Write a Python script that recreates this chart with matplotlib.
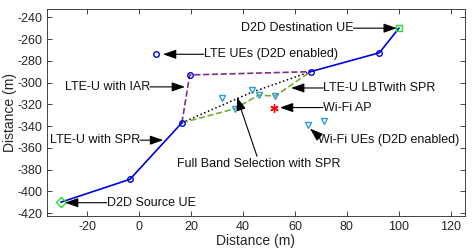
import matplotlib
matplotlib.use('Agg')
import matplotlib.pyplot as plt

plt.rcParams['font.family'] = ['Liberation Sans', 'DejaVu Sans']
plt.rcParams['axes.unicode_minus'] = False

# path nodes
lte_spr_x1 = [-30, -3.5, 16.5]
lte_spr_y1 = [-410, -389, -337]
lte_spr_x2 = [66, 92.5, 100]
lte_spr_y2 = [-290, -272.6, -250]
iar_x = [16.5, 19.5, 66]
iar_y = [-337, -293, -290]
full_x = [16.5, 43.3, 66]
full_y = [-337, -309, -290]
lbt_x = [16.5, 37, 46, 52.3, 66]
lbt_y = [-337, -324, -311.5, -312.5, -290]

# nodes
lte_ue_x = [6.4, 19.5]
lte_ue_y = [-274, -293]
wifi_ue_x = [32, 43.3, 37, 46, 52.3, 65, 71]
wifi_ue_y = [-314, -307, -324, -311.5, -312.5, -339, -335]
ap_x, ap_y = [52], [-323]
src_x, src_y = [-30], [-410]
dst_x, dst_y = [100], [-250]

# annotations: text, text pos, alignment, arrow tail, arrow head
notes = [
    ('D2D Destination UE', (82.5, -250), 'right', (82.5, -250), (99.2, -250)),
    ('LTE UEs (D2D enabled)', (25, -274), 'left', (25, -274), (9.2, -274)),
    ('LTE-U with IAR', (4.2, -304), 'right', (4.2, -304), (17.7, -304)),
    ('LTE-U LBTwith SPR', (70.9, -305), 'left', (70.9, -305), (58.5, -305)),
    ('Wi-Fi AP', (70.7, -323), 'left', (70.7, -323), (54.2, -323)),
    ('Wi-Fi UEs (D2D enabled)', (69, -353), 'left', (68.7, -348.5), (65.8, -342.3)),
    ('Full Band Selection with SPR', (14.7, -374.6), 'left', (45.4, -367.8), (37.7, -313.5)),
    ('LTE-U with SPR', (0.4, -353), 'right', (0.4, -353), (9.3, -353)),
    ('D2D Source UE', (-12.4, -410.5), 'left', (-12.4, -410.5), (-28.5, -410.5)),
]

fig = plt.figure(figsize=(4.72, 2.5), dpi=100)
ax = fig.add_axes([0.0996, 0.137, 0.8854, 0.826])

ax.plot(iar_x, iar_y, '--', color='#7E2F8E', lw=1.2)
ax.plot(full_x, full_y, ':', color='k', lw=1.1)
ax.plot(lbt_x, lbt_y, '--', color='#77AC30', lw=1.2)
ax.plot(lte_spr_x1, lte_spr_y1, '-', color='#0000E0', lw=1.2)
ax.plot(lte_spr_x2, lte_spr_y2, '-', color='#0000E0', lw=1.2)
ax.plot(lte_spr_x1[1:] + lte_spr_x2[:2], lte_spr_y1[1:] + lte_spr_y2[:2], 'o',
        mfc='none', mec='#0000E0', ms=4, mew=1)
ax.plot(lte_ue_x, lte_ue_y, 'o', mfc='none', mec='#0000E0', ms=4, mew=1)
ax.plot(wifi_ue_x, wifi_ue_y, 'v', mfc='none', mec='#2A9FD6', ms=5, mew=1)
ax.plot(ap_x, ap_y, marker=(6, 2, 0), ls='none', color='r', ms=6, mew=1)
ax.plot(src_x, src_y, 'D', mfc='none', mec='#22DD22', ms=5, mew=1)
ax.plot(dst_x, dst_y, 's', mfc='none', mec='#22DD22', ms=5, mew=1)

for txt, pos, ha, tail, head in notes:
    ax.text(pos[0], pos[1], txt, ha=ha, va='center', fontsize=9, color='#111111')
    ax.annotate('', xy=head, xytext=tail,
                arrowprops=dict(arrowstyle='-|>,head_length=0.8,head_width=0.28',
                                color='k', lw=0.8, shrinkA=0, shrinkB=0,
                                mutation_scale=10))

ax.set_xlim(-35.4, 125.4)
ax.set_ylim(-422.5, -232.6)
ax.set_xticks(range(-20, 121, 20))
ax.set_yticks(range(-420, -239, 20))
ax.tick_params(direction='in', top=True, right=True, length=3.5, labelsize=9,
               color='#262626', labelcolor='#262626', width=0.6)
for s in ax.spines.values():
    s.set_color('#262626')
    s.set_linewidth(0.6)
ax.set_xlabel('Distance (m)', fontsize=10, labelpad=1, color='#262626')
ax.set_ylabel('Distance (m)', fontsize=10, labelpad=0, color='#262626')

fig.savefig('out.png', dpi=100)
